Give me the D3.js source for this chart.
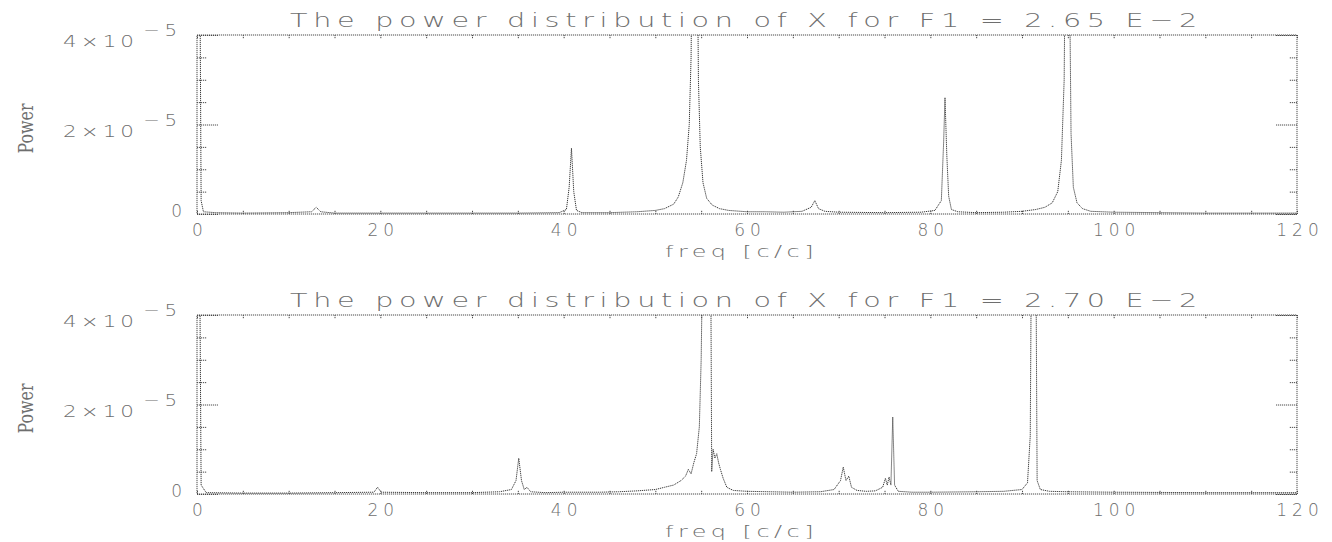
<!DOCTYPE html>
<html>
<head>
<meta charset="utf-8">
<script src="https://cdn.jsdelivr.net/npm/d3@7"></script>
<style>
  html, body { margin: 0; padding: 0; background: #fff; }
  svg { display: block; }
  .htext { font-family: "DejaVu Sans", sans-serif; font-weight: 200; fill: #6e6e6e; }
  .ylab { font-family: "DejaVu Serif", serif; font-weight: 200; fill: #6e6e6e; }
</style>
</head>
<body>
<svg id="chart" width="1332" height="542"></svg>
<script>
// ---------------- data ----------------
const powerUnitLabel = "−5";          // exponent of the tick labels (×10^-5)
const xTicks = [0, 20, 40, 60, 80, 100, 120];
const xMinorTicks = [0,5,10,15,20,25,30,35,40,45,50,55,60,65,70,75,80,85,90,95,100,105,110,115,120];
const yTicks = [0, 2, 4];                      // in units of 1e-5
const yMinorTicks = [0.5, 1, 1.5, 2.5, 3, 3.5];
const yTickBase = ["0", "2×10", "4×10"];
const titles = [
  "The power distribution of X for F1 = 2.65 E−2",
  "The power distribution of X for F1 = 2.70 E−2"
];
const xLabel = "freq [c/c]";
const yLabel = "Power";

// panel 1: F1 = 2.65 E-2   (power in units of 1e-5)
const freqTop = [0, 0.15, 0.3, 0.45, 0.7, 2, 5, 10, 12.5, 13.0, 13.5, 15, 20, 25, 30, 35, 39.5,
  40.3, 40.6, 40.85, 41.1, 41.4, 42, 45, 48, 50, 51, 52, 52.5, 53.0, 53.4, 53.7, 53.9, 54.1, 54.3,
  54.5, 54.7, 54.9, 55.2, 55.6, 56.2, 57, 58, 60, 62, 64, 66, 67.0, 67.4, 67.8, 68.5, 70, 75, 79,
  80.5, 81.2, 81.45, 81.6, 81.8, 82.0, 82.3, 83, 85, 88, 90, 91.5, 92.5, 93.3, 93.9, 94.3, 94.6,
  94.8, 95.0, 95.2, 95.35, 95.6, 96.0, 96.6, 97.5, 100, 105, 110, 115, 120];
const powerTop = [9, 9, 6, 0.3, 0.05, 0.03, 0.02, 0.03, 0.05, 0.15, 0.05, 0.02, 0.02, 0.02, 0.02, 0.02, 0.03,
  0.1, 0.6, 1.47, 0.5, 0.08, 0.03, 0.03, 0.05, 0.08, 0.12, 0.22, 0.38, 0.7, 1.2, 2.0, 3.5, 8, 12,
  8, 3.0, 1.5, 0.7, 0.35, 0.2, 0.12, 0.08, 0.05, 0.05, 0.04, 0.06, 0.15, 0.3, 0.12, 0.06, 0.04, 0.03, 0.04,
  0.08, 0.3, 1.6, 2.6, 1.3, 0.4, 0.1, 0.05, 0.03, 0.04, 0.06, 0.1, 0.15, 0.25, 0.5, 1.2, 3.0,
  8, 12, 5, 1.8, 0.6, 0.25, 0.12, 0.06, 0.04, 0.03, 0.02, 0.02, 0.02];

// panel 2: F1 = 2.70 E-2
const freqBottom = [0, 0.15, 0.3, 0.45, 1, 5, 10, 15, 19.3, 19.7, 20.1, 25, 30, 33, 34.3, 34.8, 35.1,
  35.4, 35.7, 36.0, 36.4, 38, 40, 44, 46, 48, 50, 51, 52, 52.8, 53.3, 53.6, 53.9, 54.2, 54.5, 54.8,
  55.0, 55.2, 55.5, 55.8, 56.05, 56.15, 56.3, 56.5, 56.7, 56.9, 57.1, 57.4, 57.8, 58.5, 60, 65, 68,
  69.5, 70.2, 70.5, 70.8, 71.1, 71.4, 72, 73, 74, 74.8, 75.1, 75.3, 75.5, 75.7, 75.9, 76.1, 76.5,
  78, 80, 85, 88, 90, 90.6, 90.9, 91.1, 91.3, 91.5, 91.65, 92, 93, 95, 100, 110, 120];
const powerBottom = [9, 9, 5, 0.2, 0.03, 0.02, 0.02, 0.03, 0.04, 0.15, 0.04, 0.03, 0.03, 0.05, 0.1, 0.3, 0.8,
  0.3, 0.1, 0.15, 0.05, 0.03, 0.04, 0.04, 0.05, 0.07, 0.1, 0.15, 0.2, 0.3, 0.4, 0.55, 0.45, 0.7, 0.9, 1.5,
  3.0, 6, 10, 10, 5, 0.5, 1.0, 0.8, 0.9, 0.7, 0.55, 0.35, 0.15, 0.08, 0.06, 0.04, 0.05,
  0.1, 0.3, 0.6, 0.3, 0.4, 0.15, 0.08, 0.06, 0.07, 0.15, 0.35, 0.2, 0.38, 0.2, 1.72, 0.2, 0.06,
  0.04, 0.04, 0.05, 0.06, 0.1, 0.25, 1.3, 8, 12, 6, 0.3, 0.1, 0.06, 0.05, 0.04, 0.03, 0.03];

const panels = [
  { title: titles[0], freq: freqTop, power: powerTop },
  { title: titles[1], freq: freqBottom, power: powerBottom }
];

// ---------------- layout ----------------
const left = 197, right = 1297, plotH = 179;
const panelTops = [35, 315];
const lineColor = "#3a3a3a";

const svg = d3.select("#chart");
const x = d3.scaleLinear().domain([0, 120]).range([left, right]);
const y = d3.scaleLinear().domain([0, 4]).range([plotH, 0]);

panels.forEach((p, i) => {
  const top = panelTops[i];
  const g = svg.append("g").attr("transform", `translate(0,${top})`);

  const clipId = "clip" + i;
  g.append("clipPath").attr("id", clipId)
    .append("rect").attr("x", left).attr("y", 0).attr("width", right - left).attr("height", plotH);

  // data line
  const pts = p.freq.map((f, k) => [f, p.power[k]]);
  g.append("path")
    .datum(pts)
    .attr("clip-path", `url(#${clipId})`)
    .attr("fill", "none")
    .attr("stroke", lineColor)
    .attr("stroke-width", 1)
    .attr("stroke-dasharray", "1.2,0.8")
    .attr("d", d3.line().x(d => x(d[0])).y(d => y(d[1])));

  // frame
  g.append("rect")
    .attr("x", left).attr("y", 0).attr("width", right - left).attr("height", plotH)
    .attr("fill", "none").attr("stroke", "#4a4a4a").attr("stroke-width", 1)
    .attr("stroke-dasharray", "1.2,0.8");

  const styleAxis = sel => {
    sel.select(".domain").remove();
    sel.selectAll("line").attr("stroke", "#4a4a4a").attr("stroke-dasharray", "1.2,0.8");
  };

  // x ticks (inward, bottom and top)
  g.append("g").attr("transform", `translate(0,${plotH})`)
    .call(d3.axisBottom(x).tickValues(xMinorTicks).tickSize(-4).tickFormat(""))
    .call(styleAxis);
  g.append("g")
    .call(d3.axisTop(x).tickValues(xMinorTicks).tickSize(-4).tickFormat(""))
    .call(styleAxis);

  // y ticks (inward, left and right)
  g.append("g").attr("transform", `translate(${left},0)`)
    .call(d3.axisLeft(y).tickValues(yMinorTicks).tickSize(-10).tickFormat(""))
    .call(styleAxis);
  g.append("g").attr("transform", `translate(${left},0)`)
    .call(d3.axisLeft(y).tickValues(yTicks).tickSize(-21).tickFormat(""))
    .call(styleAxis);
  g.append("g").attr("transform", `translate(${right},0)`)
    .call(d3.axisRight(y).tickValues(yMinorTicks).tickSize(-8).tickFormat(""))
    .call(styleAxis);
  g.append("g").attr("transform", `translate(${right},0)`)
    .call(d3.axisRight(y).tickValues(yTicks).tickSize(-21).tickFormat(""))
    .call(styleAxis);

  // x tick labels
  const xl = g.append("g").attr("transform", `translate(0,${plotH})`)
    .call(d3.axisBottom(x).tickValues(xTicks).tickSize(0).tickPadding(0).tickFormat(d3.format("d")));
  xl.select(".domain").remove();
  xl.selectAll("text")
    .attr("class", "htext")
    .attr("dy", null)
    .attr("y", 22)
    .attr("fill", null)
    .style("font-size", "17px")
    .style("letter-spacing", "5px")
    .attr("dx", "2.5");

  // y tick labels
  yTicks.forEach((v, k) => {
    if (v === 0) {
      g.append("text").attr("class", "htext")
        .attr("text-anchor", "end").attr("x", 182)
        .attr("y", y(v) + 3).style("font-size", "17px").text(yTickBase[k]);
    } else {
      g.append("text").attr("class", "htext")
        .attr("x", 63).attr("y", y(v) + 12)
        .attr("textLength", 75).attr("lengthAdjust", "spacingAndGlyphs")
        .style("font-size", "16px").style("letter-spacing", "3px")
        .text(yTickBase[k]);
      g.append("text").attr("class", "htext")
        .attr("x", 143).attr("y", y(v) + 1)
        .attr("textLength", 39).attr("lengthAdjust", "spacingAndGlyphs")
        .style("font-size", "16px").style("letter-spacing", "4px")
        .text(powerUnitLabel);
    }
  });

  // title
  g.append("text").attr("class", "htext")
    .attr("x", 290).attr("y", -8)
    .attr("textLength", 913).attr("lengthAdjust", "spacingAndGlyphs")
    .style("font-size", "20px")
    .style("letter-spacing", "4px")
    .text(p.title);

  // x label
  g.append("text").attr("class", "htext")
    .attr("x", 665).attr("y", plotH + 43)
    .attr("textLength", 153).attr("lengthAdjust", "spacingAndGlyphs")
    .style("font-size", "16px")
    .style("letter-spacing", "3px")
    .text(xLabel);

  // y label
  g.append("text").attr("class", "ylab")
    .attr("transform", `translate(33,${plotH / 2 + 4}) rotate(-90)`)
    .attr("text-anchor", "middle")
    .attr("textLength", 50).attr("lengthAdjust", "spacingAndGlyphs")
    .style("font-size", "20px")
    .text(yLabel);
});
</script>
</body>
</html>
